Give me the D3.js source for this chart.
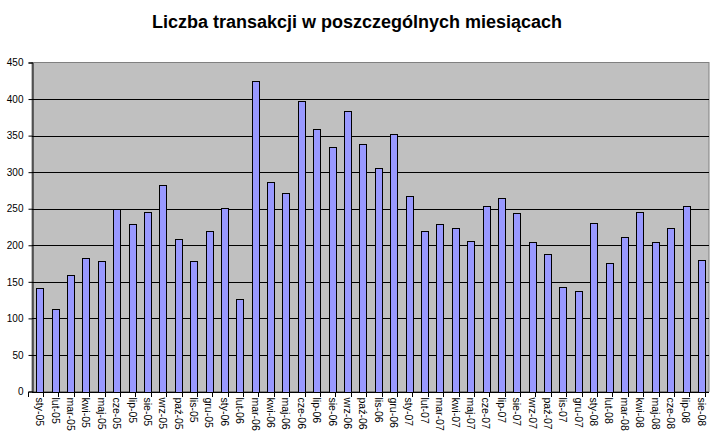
<!DOCTYPE html>
<html><head><meta charset="utf-8">
<script src="https://cdn.jsdelivr.net/npm/d3@7"></script>
<style>body{margin:0;background:#fff}svg{display:block}</style>
</head><body>
<svg id="c" width="715" height="438"></svg>
<script>
const months = ["sty-05","lut-05","mar-05","kwi-05","maj-05","cze-05","lip-05","sie-05","wrz-05","paź-05","lis-05","gru-05",
"sty-06","lut-06","mar-06","kwi-06","maj-06","cze-06","lip-06","sie-06","wrz-06","paź-06","lis-06","gru-06",
"sty-07","lut-07","mar-07","kwi-07","maj-07","cze-07","lip-07","sie-07","wrz-07","paź-07","lis-07","gru-07",
"sty-08","lut-08","mar-08","kwi-08","maj-08","cze-08","lip-08","sie-08"];
const values = [142,113,160,182,179,250,229,246,283,209,178,220,
251,127,425,287,272,398,359,335,383,339,306,352,
268,220,229,224,206,254,264,244,204,188,143,138,
231,176,212,246,205,224,254,180];
const yTicks = [0,50,100,150,200,250,300,350,400,450];
const title = "Liczba transakcji w poszczególnych miesiącach";

const svg = d3.select("#c");
const L = 32, R = 709, T = 62.5, B = 391.5;
const x = d3.scaleBand().domain(months).range([L, R]).paddingInner(0.56).paddingOuter(0.28);
const y = d3.scaleLinear().domain([0,450]).range([B, T]);
const font = "Liberation Sans, Arial, sans-serif";

svg.append("rect").attr("x",L).attr("y",T).attr("width",R-L).attr("height",B-T)
  .attr("fill","#c0c0c0").attr("stroke","#808080").attr("stroke-width",1);

svg.append("g").selectAll("line").data(yTicks.filter(d=>d>0 && d<450)).join("line")
  .attr("x1",L).attr("x2",R).attr("y1",d=>Math.round(y(d))+0.5).attr("y2",d=>Math.round(y(d))+0.5)
  .attr("stroke","#000").attr("stroke-width",1);

svg.append("g").selectAll("rect").data(months).join("rect")
  .attr("x",d=>Math.round(x(d))+0.5).attr("width",Math.round(x.bandwidth()))
  .attr("y",(d,i)=>Math.round(y(values[i]))+0.5).attr("height",(d,i)=>Math.round(B)-Math.round(y(values[i])))
  .attr("fill","#9999ff").attr("stroke","#000").attr("stroke-width",1);

const ya = svg.append("g").attr("transform",`translate(${L+0.5},0)`)
  .call(d3.axisLeft(y).tickValues(yTicks).tickSize(4).tickPadding(5).tickFormat(d3.format("d")));
ya.selectAll("path,line").attr("stroke","#000");
ya.selectAll("text").attr("font-family",font).attr("font-size",10).attr("fill","#000");

// x axis with ticks at band boundaries
const xg = svg.append("g");
xg.append("line").attr("x1",L).attr("x2",R).attr("y1",Math.round(B)+0.5).attr("y2",Math.round(B)+0.5).attr("stroke","#000");
const step = x.step();
const bounds = d3.range(months.length+1).map(i=>x(months[0]) - x.paddingOuter()*step - x.paddingInner()*step/2 + i*step);
xg.selectAll("line.t").data(bounds).join("line").attr("class","t")
  .attr("x1",d=>Math.round(d)+0.5).attr("x2",d=>Math.round(d)+0.5)
  .attr("y1",Math.round(B)).attr("y2",Math.round(B)+5).attr("stroke","#000");
xg.selectAll("text").data(months).join("text")
  .attr("transform",d=>`translate(${x(d)+x.bandwidth()/2-3.5},${B+6}) rotate(90)`)
  .attr("font-family",font).attr("font-size",10.5).attr("fill","#000")
  .text(d=>d);

svg.append("text").attr("x",357).attr("y",28).attr("text-anchor","middle")
  .attr("font-family",font).attr("font-size",18).attr("font-weight","bold").text(title);
</script>
</body></html>
